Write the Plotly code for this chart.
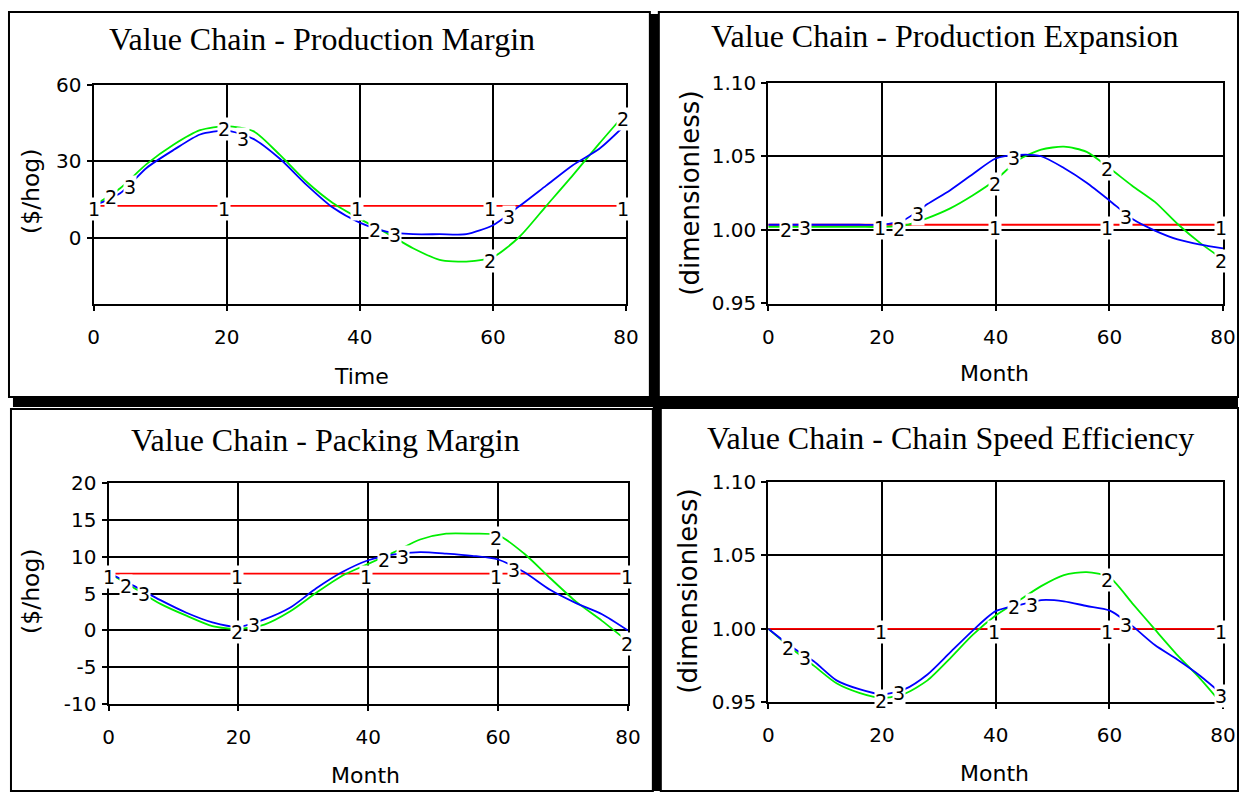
import numpy as np
import plotly.graph_objects as go

W, H = 1251, 803

# ---------------- data ----------------
MONTHS = [0, 4, 8, 12, 16, 20, 24, 28, 32, 36, 40, 44, 48, 52, 56, 60, 64, 68, 72, 76, 80]
X_TICKS = [0, 20, 40, 60, 80]

# Production Margin ($/hog)
P1_S1 = [12.6, 12.6, 12.6, 12.6, 12.6, 12.6, 12.6, 12.6, 12.6, 12.6, 12.6,
         12.6, 12.6, 12.6, 12.6, 12.6, 12.6, 12.6, 12.6, 12.6, 12.6]
P1_S2 = [12.6, 19.5, 29.0, 36.5, 42.2, 43.8, 41.8, 32.5, 22.0, 13.6, 7.5,
         2.0, -4.0, -8.5, -9.2, -7.5, 0.5, 12.5, 24.5, 37.0, 49.0]
P1_S3 = [12.6, 17.5, 27.5, 34.4, 40.5, 42.0, 38.8, 31.0, 20.8, 11.8, 6.0,
         2.5, 1.5, 1.5, 1.5, 5.0, 12.5, 20.5, 28.5, 34.9, 44.5]
P1_YTICKS = [0, 30, 60]
P1_YTEXT = ["0", "30", "60"]

# Production Expansion (dimensionless)
P2_S1 = [1.0035, 1.0035, 1.0035, 1.0035, 1.0035, 1.0035, 1.0035, 1.0035, 1.0035, 1.0035, 1.0035,
         1.0035, 1.0035, 1.0035, 1.0035, 1.0035, 1.0035, 1.0035, 1.0035, 1.0035, 1.0035]
P2_S2 = [1.002, 1.002, 1.002, 1.002, 1.002, 1.002, 1.003, 1.008, 1.0146, 1.0235, 1.034,
         1.0475, 1.0545, 1.0565, 1.053, 1.042, 1.030, 1.019, 1.004, 0.991, 0.980]
P2_S3 = [1.0035, 1.0035, 1.0035, 1.0035, 1.0035, 1.0035, 1.007, 1.0175, 1.027, 1.038, 1.0485,
         1.051, 1.050, 1.042, 1.032, 1.020, 1.0075, 0.9995, 0.9935, 0.990, 0.9875]
P2_YTICKS = [0.95, 1.00, 1.05, 1.10]
P2_YTEXT = ["0.95", "1.00", "1.05", "1.10"]

# Packing Margin ($/hog)
P3_S1 = [7.7, 7.7, 7.7, 7.7, 7.7, 7.7, 7.7, 7.7, 7.7, 7.7, 7.7,
         7.7, 7.7, 7.7, 7.7, 7.7, 7.7, 7.7, 7.7, 7.7, 7.7]
P3_S2 = [7.8, 5.7, 3.6, 2.0, 0.6, 0.2, 0.8, 2.6, 5.1, 7.4, 9.0,
         10.6, 12.3, 13.1, 13.1, 12.9, 10.4, 7.1, 3.9, 1.3, -1.5]
P3_S3 = [7.8, 6.0, 4.1, 2.4, 1.1, 0.5, 1.5, 3.1, 5.7, 7.9, 9.5,
         10.3, 10.6, 10.4, 10.1, 9.6, 7.9, 5.5, 3.7, 2.2, 0.0]
P3_YTICKS = [-10, -5, 0, 5, 10, 15, 20]
P3_YTEXT = ["-10", "-5", "0", "5", "10", "15", "20"]

# Chain Speed Efficiency (dimensionless)
P4_S1 = [1.0, 1.0, 1.0, 1.0, 1.0, 1.0, 1.0, 1.0, 1.0, 1.0, 1.0,
         1.0, 1.0, 1.0, 1.0, 1.0, 1.0, 1.0, 1.0, 1.0, 1.0]
P4_S2 = [1.0, 0.987, 0.975, 0.963, 0.9565, 0.953, 0.956, 0.965, 0.980, 0.996, 1.009,
         1.019, 1.029, 1.0365, 1.0385, 1.035, 1.0175, 0.9996, 0.982, 0.966, 0.948]
P4_S3 = [1.0, 0.988, 0.978, 0.965, 0.959, 0.9555, 0.959, 0.969, 0.984, 0.999, 1.012,
         1.016, 1.0195, 1.0187, 1.0155, 1.0125, 1.002, 0.989, 0.979, 0.968, 0.955]
P4_YTICKS = [0.95, 1.00, 1.05, 1.10]
P4_YTEXT = ["0.95", "1.00", "1.05", "1.10"]

# positions (month) of the numbered pen labels
P1_L1 = [0, 19.6, 39.6, 59.6, 79.6]
P1_L2 = [2.6, 19.6, 42.3, 59.6, 79.6]
P1_L3 = [5.5, 22.4, 45.3, 62.4]
P2_L1 = [19.6, 39.8, 59.6, 79.6]
P2_L2 = [3.2, 23.0, 39.8, 59.6, 79.6]
P2_L3 = [6.4, 26.3, 43.3, 63.0]
P3_L1 = [0, 19.8, 39.6, 59.7, 79.8]
P3_L2 = [2.7, 19.8, 42.4, 59.6, 79.8]
P3_L3 = [5.5, 22.4, 45.4, 62.4]
P4_L1 = [19.8, 39.7, 59.6, 79.6]
P4_L2 = [3.4, 19.8, 43.2, 59.6]
P4_L3 = [6.4, 23.0, 46.4, 63.0, 79.6]

TITLES = ["Value Chain - Production Margin", "Value Chain - Production Expansion",
          "Value Chain - Packing Margin", "Value Chain - Chain Speed Efficiency"]
X_TITLES = ["Time", "Month", "Month", "Month"]
Y_TITLES = ["($/hog)", "(dimensionless)", "($/hog)", "(dimensionless)"]
Y_TITLE_SIZES = [23.5, 26, 23.5, 26]

COLORS = ["#ff0000", "#00ee00", "#0000ff"]

# ---------------- layout helpers ----------------
# The photographed page comes back slightly inset and shrunk
# (x' = 5 + 0.9896 x, y' = 10 + 0.9751 y); target positions below are given
# in picture pixels and mapped back to paper fractions.
SX, OX = 0.9896, 5.0
SY, OY = 0.9751, 10.0


def fx(d):
    return min(1.0, max(0.0, ((d - OX) / SX) / W))


def fy(d):
    return min(1.0, max(0.0, 1 - ((d - OY) / SY) / H))


panels = [
    dict(xpix=(93, 628), ypix=(83, 304), yrange=[-26, 60], yt=P1_YTICKS, ytt=P1_YTEXT,
         series=(P1_S1, P1_S2, P1_S3), labels=(P1_L1, P1_L2, P1_L3),
         title_xy=(323, 37), xt_xy=(362, 376), yt_xy=(30, 190)),
    dict(xpix=(771, 1228), ypix=(81, 303), yrange=[0.95, 1.10], yt=P2_YTICKS, ytt=P2_YTEXT,
         series=(P2_S1, P2_S2, P2_S3), labels=(P2_L1, P2_L2, P2_L3),
         title_xy=(948, 34), xt_xy=(998, 373), yt_xy=(692, 192)),
    dict(xpix=(108, 630), ypix=(483, 706), yrange=[-10, 20], yt=P3_YTICKS, ytt=P3_YTEXT,
         series=(P3_S1, P3_S2, P3_S3), labels=(P3_L1, P3_L2, P3_L3),
         title_xy=(326, 440), xt_xy=(366, 777), yt_xy=(30, 592)),
    dict(xpix=(771, 1228), ypix=(482, 704), yrange=[0.95, 1.10], yt=P4_YTICKS, ytt=P4_YTEXT,
         series=(P4_S1, P4_S2, P4_S3), labels=(P4_L1, P4_L2, P4_L3),
         title_xy=(954, 438), xt_xy=(998, 775), yt_xy=(690, 592)),
]

fig = go.Figure()
annotations = []
layout_axes = {}

TICK_FONT = dict(family="DejaVu Sans", size=20, color="black")

for i, p in enumerate(panels):
    n = i + 1
    xa = "x" if n == 1 else f"x{n}"
    ya = "y" if n == 1 else f"y{n}"
    xkey = "xaxis" if n == 1 else f"xaxis{n}"
    ykey = "yaxis" if n == 1 else f"yaxis{n}"

    for k, s in enumerate(p["series"]):
        fig.add_trace(go.Scatter(
            x=MONTHS, y=s, mode="lines", xaxis=xa, yaxis=ya,
            line=dict(color=COLORS[k], width=1.8, shape="spline", smoothing=0.7),
            showlegend=False, hoverinfo="skip"))

    for k, (labs, s) in enumerate(zip(p["labels"], p["series"])):
        for m in labs:
            yv = float(np.interp(m, MONTHS, s))
            annotations.append(dict(
                x=m, y=yv, xref=xa, yref=ya, text=str(k + 1), showarrow=False,
                font=dict(family="DejaVu Sans", size=19, color="black"),
                bgcolor="white", borderpad=0, yshift=-3))

    layout_axes[xkey] = dict(
        domain=[fx(p["xpix"][0]), fx(p["xpix"][1])], range=[0, 80], anchor=ya,
        tickvals=X_TICKS, ticktext=[str(v) for v in X_TICKS],
        showline=True, linecolor="black", linewidth=2, mirror=True,
        showgrid=True, gridcolor="black", gridwidth=2, zeroline=False,
        ticks="outside", ticklen=5, tickwidth=1.5, tickcolor="black",
        tickfont=TICK_FONT, ticklabelstandoff=9, fixedrange=True)
    layout_axes[ykey] = dict(
        domain=[fy(p["ypix"][1]), fy(p["ypix"][0])], range=p["yrange"], anchor=xa,
        tickvals=p["yt"], ticktext=p["ytt"],
        showline=True, linecolor="black", linewidth=2, mirror=True,
        showgrid=True, gridcolor="black", gridwidth=2, zeroline=False,
        ticks="outside", ticklen=5, tickwidth=1.5, tickcolor="black",
        tickfont=TICK_FONT, ticklabelstandoff=1, fixedrange=True)

    annotations.append(dict(
        x=fx(p["title_xy"][0]), y=fy(p["title_xy"][1]), xref="paper", yref="paper",
        text=TITLES[i], showarrow=False, xanchor="center", yanchor="middle",
        font=dict(family="Liberation Serif", size=32, color="black")))
    annotations.append(dict(
        x=fx(p["xt_xy"][0]), y=fy(p["xt_xy"][1]), xref="paper", yref="paper",
        text=X_TITLES[i], showarrow=False, xanchor="center", yanchor="middle",
        font=dict(family="DejaVu Sans", size=22, color="black")))
    annotations.append(dict(
        x=fx(p["yt_xy"][0]), y=fy(p["yt_xy"][1]), xref="paper", yref="paper",
        text=Y_TITLES[i], showarrow=False, xanchor="center", yanchor="middle",
        textangle=-90, font=dict(family="DejaVu Sans", size=Y_TITLE_SIZES[i], color="black")))

# window frames and separators
shapes = []
for (x0, y0, x1, y1) in [(8, 8, 652, 397), (661, 6, 1245, 397),
                         (10, 409, 655, 800), (663, 408, 1248, 798)]:
    shapes.append(dict(type="rect", xref="paper", yref="paper",
                       x0=fx(x0), x1=fx(x1), y0=fy(y1), y1=fy(y0),
                       line=dict(color="black", width=2), fillcolor="rgba(0,0,0,0)"))
for (x0, y0, x1, y1) in [(652, 12, 661, 400), (12, 397, 1251, 407), (655, 405, 663, 803)]:
    shapes.append(dict(type="rect", xref="paper", yref="paper",
                       x0=fx(x0), x1=fx(x1), y0=fy(y1), y1=fy(y0),
                       line=dict(width=0), fillcolor="black"))

fig.update_layout(
    width=W, height=H, autosize=False,
    margin=dict(l=0, r=0, t=0, b=0),
    paper_bgcolor="white", plot_bgcolor="white",
    showlegend=False, annotations=annotations, shapes=shapes,
    **layout_axes)

fig.write_html(
    "out.html", config={"displayModeBar": False},
    post_script="document.body.style.margin='0';document.body.style.padding='0';"
                "document.body.style.overflow='hidden';")
